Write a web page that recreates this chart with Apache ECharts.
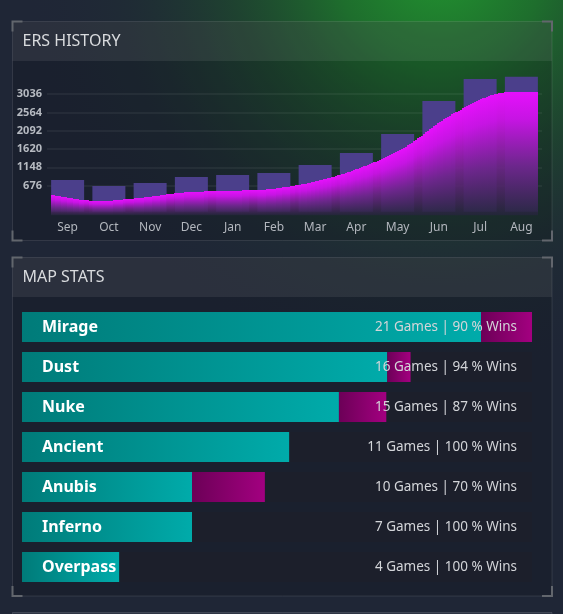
<!DOCTYPE html>
<html><head><meta charset="utf-8">
<script src="https://cdn.jsdelivr.net/npm/echarts@6/dist/echarts.min.js"></script>
<style>html,body{margin:0;padding:0;background:#1f2636;}#c{width:563px;height:614px;}</style>
</head><body><div id="c"></div>
<script>
// ---- data ----
const months = ['Sep','Oct','Nov','Dec','Jan','Feb','Mar','Apr','May','Jun','Jul','Aug'];
const monthBars = [823, 668, 746, 901, 952, 1004, 1210, 1520, 2011, 2863, 3431, 3490];
const ersCurve = [436, 281, 358, 500, 540, 592, 795, 1141, 1670, 2470, 3030, 3095];
const yTicks = [676, 1148, 1620, 2092, 2564, 3036];
const maps = ['Mirage','Dust','Nuke','Ancient','Anubis','Inferno','Overpass'];
const games = [21, 16, 15, 11, 10, 7, 4];
const winPct = [90, 94, 87, 100, 70, 100, 100];

const yMin = -90, yMax = 3650;
const wins = games.map((g, i) => g * winPct[i] / 100);
const losses = games.map((g, i) => g - wins[i]);
const maxGames = Math.max(...games);

const chart = echarts.init(document.getElementById('c'), null, {renderer: 'canvas'});
const LG = echarts.graphic.LinearGradient;

function bez(a, b, c, d, t) {
  const u = 1 - t;
  return u*u*u*a + 3*u*u*t*b + 3*u*t*t*c + t*t*t*d;
}
const areaFill = new LG(0, 0, 0, 1, [
  {offset: 0, color: 'rgba(230,16,252,1)'},
  {offset: 0.22, color: 'rgba(205,18,232,0.95)'},
  {offset: 0.6, color: 'rgba(112,36,140,0.9)'},
  {offset: 1, color: 'rgba(36,38,58,0.88)'}
]);
function renderArea(params, api) {
  const i = params.dataIndex, n = ersCurve.length;
  if (i >= n - 1) return null;
  const pt = k => {
    if (k < 0) { const a = api.coord([0, ersCurve[0]]), b = api.coord([1, ersCurve[1]]); return [2*a[0]-b[0], 2*a[1]-b[1]]; }
    if (k > n - 1) { const a = api.coord([n-1, ersCurve[n-1]]), b = api.coord([n-2, ersCurve[n-2]]); return [2*a[0]-b[0], 2*a[1]-b[1]]; }
    return api.coord([k, ersCurve[k]]);
  };
  const p0 = pt(i-1), p1 = pt(i), p2 = pt(i+1), p3 = pt(i+2);
  const c1 = [p1[0] + (p2[0]-p0[0])/6, p1[1] + (p2[1]-p0[1])/6];
  const c2 = [p2[0] - (p3[0]-p1[0])/6, p2[1] - (p3[1]-p1[1])/6];
  const base = api.coord([i, yMin])[1];
  const steps = Math.max(1, Math.round((p2[0]-p1[0]) / 2));
  const children = [];
  for (let s = 0; s < steps; s++) {
    const t0 = s/steps, t1 = (s+1)/steps, tm = (t0+t1)/2;
    const x0 = Math.round(bez(p1[0], c1[0], c2[0], p2[0], t0));
    const x1 = Math.round(bez(p1[0], c1[0], c2[0], p2[0], t1));
    const y = Math.round(bez(p1[1], c1[1], c2[1], p2[1], tm));
    if (x1 <= x0) continue;
    children.push({type: 'rect', shape: {x: x0, y: y, width: x1 - x0, height: base - y}, style: {fill: areaFill}});
  }
  return {type: 'group', children};
}

function panel(x0, y0, x1, y1, title) {
  const els = [];
  els.push({type: 'rect', shape: {x: x0, y: y0, width: x1-x0, height: y1-y0},
    style: {fill: 'rgba(8,12,20,0.22)', stroke: 'rgba(255,255,255,0.1)', lineWidth: 1}, z: -5});
  els.push({type: 'rect', shape: {x: x0, y: y0, width: x1-x0, height: 39.5},
    style: {fill: 'rgba(255,255,255,0.075)'}, z: -4});
  const L = 10, c = '#62666d';
  const corners = [
    [[x0, y0+L], [x0, y0], [x0+L, y0]],
    [[x1-L, y0], [x1, y0], [x1, y0+L]],
    [[x0, y1-L], [x0, y1], [x0+L, y1]],
    [[x1-L, y1], [x1, y1], [x1, y1-L]]
  ];
  corners.forEach(p => els.push({type: 'polyline', shape: {points: p}, style: {stroke: c, lineWidth: 2, fill: null}, z: -3}));
  if (title) els.push({type: 'text', x: x0 + 10, y: y0 + 20, style: {text: title, fill: '#d9dbde',
    font: '16px "Noto Sans"', textVerticalAlign: 'middle'}, z: 10});
  return els;
}

const graphics = [
  {type: 'rect', shape: {x: 0, y: 0, width: 563, height: 614}, style: {fill: '#1f2636'}, z: -20},
  {type: 'rect', shape: {x: 0, y: 0, width: 563, height: 614}, z: -19,
    style: {fill: {type: 'radial', x: 440, y: -40, r: 420, global: true, colorStops: [
      {offset: 0, color: 'rgba(34,150,48,1)'},
      {offset: 0.25, color: 'rgba(30,118,44,0.9)'},
      {offset: 0.5, color: 'rgba(30,85,44,0.6)'},
      {offset: 0.75, color: 'rgba(31,55,50,0.3)'},
      {offset: 1, color: 'rgba(31,38,54,0)'}]}}},
  ...panel(12.5, 21.5, 552, 240.5, 'ERS HISTORY'),
  ...panel(12.5, 257.5, 552, 596, 'MAP STATS'),
  {type: 'rect', shape: {x: 12.5, y: 612.5, width: 539.5, height: 20}, style: {fill: 'rgba(255,255,255,0.07)', stroke: 'rgba(255,255,255,0.12)', lineWidth: 1}, z: -4}
];

const option = {
  animation: false,
  graphic: graphics,
  grid: [
    {left: 47, right: 21, top: 70.45, bottom: 398.7},
    {left: 51, right: 25, top: 70.45, bottom: 398.7},
    {left: 22, right: 31, top: 307, height: 280}
  ],
  xAxis: [
    {gridIndex: 0, type: 'category', data: months, axisLine: {show: false}, axisTick: {show: false},
      axisLabel: {color: '#b3b7be', fontSize: 12, margin: 6, fontFamily: 'Noto Sans'}},
    {gridIndex: 1, type: 'category', data: months, boundaryGap: false, show: false},
    {gridIndex: 2, type: 'value', min: 0, max: maxGames, show: false}
  ],
  yAxis: [
    {gridIndex: 0, type: 'value', min: yMin, max: yMax,
      axisLine: {show: false}, axisTick: {show: false, customValues: yTicks},
      axisLabel: {customValues: yTicks, formatter: v => String(v), color: '#b6bac1', fontSize: 11, fontWeight: 'bold', margin: 5, fontFamily: 'Noto Sans'},
      splitLine: {show: true, lineStyle: {color: 'rgba(255,255,255,0.07)', width: 1.5}}},
    {gridIndex: 1, type: 'value', min: yMin, max: yMax, show: false, splitLine: {show: false}},
    {gridIndex: 2, type: 'category', data: maps, inverse: true, show: false}
  ],
  series: [
    {type: 'bar', xAxisIndex: 0, yAxisIndex: 0, data: monthBars, barWidth: 33, silent: true,
      itemStyle: {color: '#4b3f8b'}, z: 2},
    {type: 'custom', xAxisIndex: 1, yAxisIndex: 1, data: ersCurve.map((v, i) => [i, v]),
      encode: {x: 0, y: 1}, renderItem: renderArea, silent: true, z: 3},
    {type: 'bar', name: 'wins', xAxisIndex: 2, yAxisIndex: 2, stack: 'g', data: wins, barWidth: 30, barGap: '-100%', silent: true,
      showBackground: true, backgroundStyle: {color: '#1c1f2b'},
      itemStyle: {color: new LG(0, 0, 1, 0, [{offset: 0, color: '#007b79'}, {offset: 1, color: '#00abaa'}])}, z: 2},
    {type: 'bar', name: 'losses', xAxisIndex: 2, yAxisIndex: 2, stack: 'g', data: losses, barWidth: 30, barGap: '-100%', silent: true,
      itemStyle: {color: new LG(0, 0, 1, 0, [{offset: 0, color: '#6c0057'}, {offset: 1, color: '#a30080'}])}, z: 2},
    {type: 'bar', name: 'names', xAxisIndex: 2, yAxisIndex: 2, data: games.map(() => maxGames), barWidth: 30, barGap: '-100%', silent: true,
      itemStyle: {color: 'rgba(0,0,0,0)'}, z: 5,
      label: {show: true, position: [20, '50%'], verticalAlign: 'middle', align: 'left',
        formatter: p => maps[p.dataIndex], color: '#ffffff', fontSize: 16, fontWeight: 'bold', fontFamily: 'Noto Sans'}},
    {type: 'bar', name: 'stats', xAxisIndex: 2, yAxisIndex: 2, data: games.map(() => maxGames), barWidth: 30, barGap: '-100%', silent: true,
      itemStyle: {color: 'rgba(0,0,0,0)'}, z: 5,
      label: {show: true, position: 'insideRight', distance: 15,
        formatter: p => games[p.dataIndex] + ' Games | ' + winPct[p.dataIndex] + ' % Wins',
        color: '#d3d5d9', fontSize: 13.5, fontFamily: 'Noto Sans'}}
  ]
};
chart.setOption(option);
</script>
</body></html>
